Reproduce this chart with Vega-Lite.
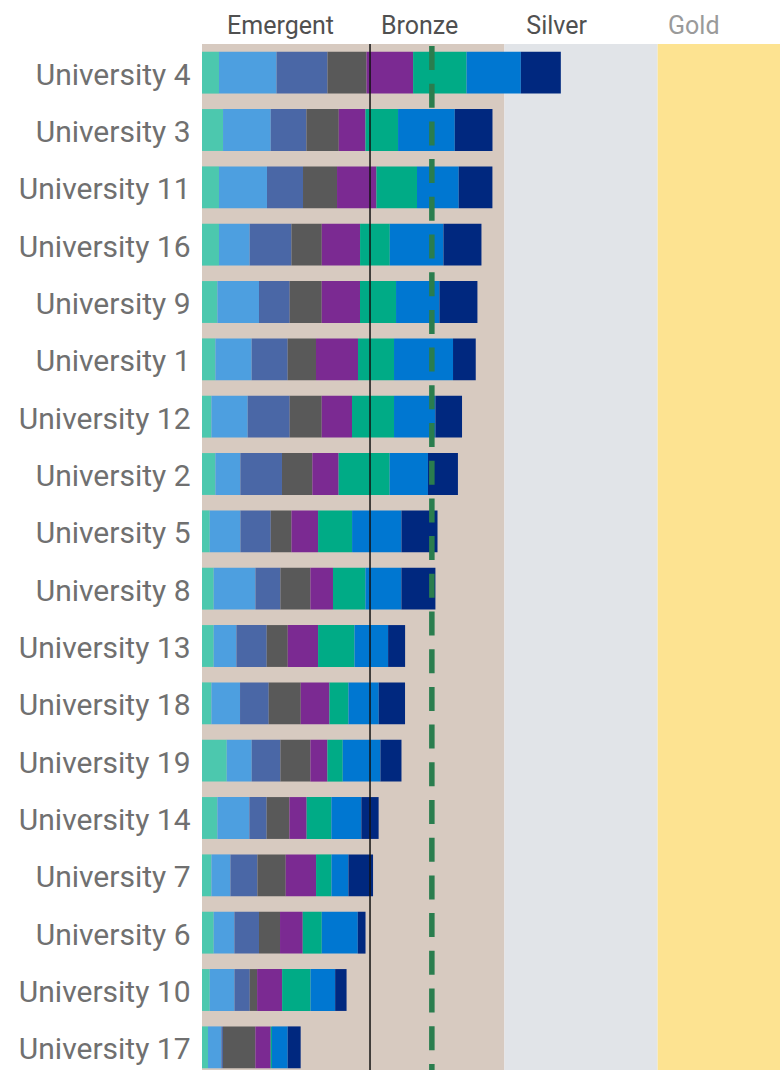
{
  "$schema": "https://vega.github.io/schema/vega-lite/v6.json",
  "autosize": {"type": "none"},
  "padding": {"left": 202, "top": 44, "right": 0, "bottom": 0},
  "width": 578,
  "height": 1032,
  "background": "white",
  "config": {"view": {"stroke": null}, "font": "Roboto"},
  "datasets": {
    "bands": [
      {"band": "Emergent", "start": 0, "end": 25},
      {"band": "Bronze", "start": 25, "end": 45},
      {"band": "Silver", "start": 45, "end": 67.8},
      {"band": "Gold", "start": 67.8, "end": 86}
    ],
    "scores": [
      {"university": "University 4", "category": "C1", "value": 2.53},
      {"university": "University 4", "category": "C2", "value": 8.56},
      {"university": "University 4", "category": "C3", "value": 7.59},
      {"university": "University 4", "category": "C4", "value": 5.80},
      {"university": "University 4", "category": "C5", "value": 6.93},
      {"university": "University 4", "category": "C6", "value": 7.95},
      {"university": "University 4", "category": "C7", "value": 8.08},
      {"university": "University 4", "category": "C8", "value": 5.95},
      {"university": "University 3", "category": "C1", "value": 3.13},
      {"university": "University 3", "category": "C2", "value": 7.10},
      {"university": "University 3", "category": "C3", "value": 5.31},
      {"university": "University 3", "category": "C4", "value": 4.81},
      {"university": "University 3", "category": "C5", "value": 3.97},
      {"university": "University 3", "category": "C6", "value": 4.85},
      {"university": "University 3", "category": "C7", "value": 8.44},
      {"university": "University 3", "category": "C8", "value": 5.61},
      {"university": "University 11", "category": "C1", "value": 2.53},
      {"university": "University 11", "category": "C2", "value": 7.14},
      {"university": "University 11", "category": "C3", "value": 5.36},
      {"university": "University 11", "category": "C4", "value": 5.06},
      {"university": "University 11", "category": "C5", "value": 5.86},
      {"university": "University 11", "category": "C6", "value": 6.04},
      {"university": "University 11", "category": "C7", "value": 6.21},
      {"university": "University 11", "category": "C8", "value": 5.01},
      {"university": "University 16", "category": "C1", "value": 2.53},
      {"university": "University 16", "category": "C2", "value": 4.57},
      {"university": "University 16", "category": "C3", "value": 6.21},
      {"university": "University 16", "category": "C4", "value": 4.51},
      {"university": "University 16", "category": "C5", "value": 5.70},
      {"university": "University 16", "category": "C6", "value": 4.42},
      {"university": "University 16", "category": "C7", "value": 7.99},
      {"university": "University 16", "category": "C8", "value": 5.65},
      {"university": "University 9", "category": "C1", "value": 2.29},
      {"university": "University 9", "category": "C2", "value": 6.19},
      {"university": "University 9", "category": "C3", "value": 4.57},
      {"university": "University 9", "category": "C4", "value": 4.76},
      {"university": "University 9", "category": "C5", "value": 5.70},
      {"university": "University 9", "category": "C6", "value": 5.36},
      {"university": "University 9", "category": "C7", "value": 6.46},
      {"university": "University 9", "category": "C8", "value": 5.65},
      {"university": "University 1", "category": "C1", "value": 1.99},
      {"university": "University 1", "category": "C2", "value": 5.40},
      {"university": "University 1", "category": "C3", "value": 5.36},
      {"university": "University 1", "category": "C4", "value": 4.21},
      {"university": "University 1", "category": "C5", "value": 6.25},
      {"university": "University 1", "category": "C6", "value": 5.36},
      {"university": "University 1", "category": "C7", "value": 8.78},
      {"university": "University 1", "category": "C8", "value": 3.38},
      {"university": "University 12", "category": "C1", "value": 1.40},
      {"university": "University 12", "category": "C2", "value": 5.40},
      {"university": "University 12", "category": "C3", "value": 6.25},
      {"university": "University 12", "category": "C4", "value": 4.76},
      {"university": "University 12", "category": "C5", "value": 4.51},
      {"university": "University 12", "category": "C6", "value": 6.25},
      {"university": "University 12", "category": "C7", "value": 6.16},
      {"university": "University 12", "category": "C8", "value": 3.96},
      {"university": "University 2", "category": "C1", "value": 1.99},
      {"university": "University 2", "category": "C2", "value": 3.72},
      {"university": "University 2", "category": "C3", "value": 6.19},
      {"university": "University 2", "category": "C4", "value": 4.52},
      {"university": "University 2", "category": "C5", "value": 3.91},
      {"university": "University 2", "category": "C6", "value": 7.59},
      {"university": "University 2", "category": "C7", "value": 5.70},
      {"university": "University 2", "category": "C8", "value": 4.46},
      {"university": "University 5", "category": "C1", "value": 1.15},
      {"university": "University 5", "category": "C2", "value": 4.57},
      {"university": "University 5", "category": "C3", "value": 4.51},
      {"university": "University 5", "category": "C4", "value": 3.08},
      {"university": "University 5", "category": "C5", "value": 3.96},
      {"university": "University 5", "category": "C6", "value": 5.06},
      {"university": "University 5", "category": "C7", "value": 7.35},
      {"university": "University 5", "category": "C8", "value": 5.36},
      {"university": "University 8", "category": "C1", "value": 1.74},
      {"university": "University 8", "category": "C2", "value": 6.21},
      {"university": "University 8", "category": "C3", "value": 3.72},
      {"university": "University 8", "category": "C4", "value": 4.46},
      {"university": "University 8", "category": "C5", "value": 3.36},
      {"university": "University 8", "category": "C6", "value": 4.82},
      {"university": "University 8", "category": "C7", "value": 5.36},
      {"university": "University 8", "category": "C8", "value": 5.06},
      {"university": "University 13", "category": "C1", "value": 1.74},
      {"university": "University 13", "category": "C2", "value": 3.38},
      {"university": "University 13", "category": "C3", "value": 4.51},
      {"university": "University 13", "category": "C4", "value": 3.13},
      {"university": "University 13", "category": "C5", "value": 4.51},
      {"university": "University 13", "category": "C6", "value": 5.42},
      {"university": "University 13", "category": "C7", "value": 5.00},
      {"university": "University 13", "category": "C8", "value": 2.53},
      {"university": "University 18", "category": "C1", "value": 1.40},
      {"university": "University 18", "category": "C2", "value": 4.26},
      {"university": "University 18", "category": "C3", "value": 4.27},
      {"university": "University 18", "category": "C4", "value": 4.76},
      {"university": "University 18", "category": "C5", "value": 4.27},
      {"university": "University 18", "category": "C6", "value": 2.83},
      {"university": "University 18", "category": "C7", "value": 4.51},
      {"university": "University 18", "category": "C8", "value": 3.91},
      {"university": "University 19", "category": "C1", "value": 3.68},
      {"university": "University 19", "category": "C2", "value": 3.72},
      {"university": "University 19", "category": "C3", "value": 4.27},
      {"university": "University 19", "category": "C4", "value": 4.46},
      {"university": "University 19", "category": "C5", "value": 2.53},
      {"university": "University 19", "category": "C6", "value": 2.28},
      {"university": "University 19", "category": "C7", "value": 5.61},
      {"university": "University 19", "category": "C8", "value": 3.13},
      {"university": "University 14", "category": "C1", "value": 2.29},
      {"university": "University 14", "category": "C2", "value": 4.76},
      {"university": "University 14", "category": "C3", "value": 2.57},
      {"university": "University 14", "category": "C4", "value": 3.38},
      {"university": "University 14", "category": "C5", "value": 2.57},
      {"university": "University 14", "category": "C6", "value": 3.68},
      {"university": "University 14", "category": "C7", "value": 4.46},
      {"university": "University 14", "category": "C8", "value": 2.57},
      {"university": "University 7", "category": "C1", "value": 1.40},
      {"university": "University 7", "category": "C2", "value": 2.83},
      {"university": "University 7", "category": "C3", "value": 4.02},
      {"university": "University 7", "category": "C4", "value": 4.21},
      {"university": "University 7", "category": "C5", "value": 4.51},
      {"university": "University 7", "category": "C6", "value": 2.29},
      {"university": "University 7", "category": "C7", "value": 2.53},
      {"university": "University 7", "category": "C8", "value": 3.66},
      {"university": "University 6", "category": "C1", "value": 1.74},
      {"university": "University 6", "category": "C2", "value": 3.08},
      {"university": "University 6", "category": "C3", "value": 3.66},
      {"university": "University 6", "category": "C4", "value": 3.13},
      {"university": "University 6", "category": "C5", "value": 3.38},
      {"university": "University 6", "category": "C6", "value": 2.83},
      {"university": "University 6", "category": "C7", "value": 5.36},
      {"university": "University 6", "category": "C8", "value": 1.15},
      {"university": "University 10", "category": "C1", "value": 1.15},
      {"university": "University 10", "category": "C2", "value": 3.68},
      {"university": "University 10", "category": "C3", "value": 2.28},
      {"university": "University 10", "category": "C4", "value": 1.09},
      {"university": "University 10", "category": "C5", "value": 3.72},
      {"university": "University 10", "category": "C6", "value": 4.23},
      {"university": "University 10", "category": "C7", "value": 3.66},
      {"university": "University 10", "category": "C8", "value": 1.70},
      {"university": "University 17", "category": "C1", "value": 0.89},
      {"university": "University 17", "category": "C2", "value": 1.99},
      {"university": "University 17", "category": "C3", "value": 0.24},
      {"university": "University 17", "category": "C4", "value": 4.82},
      {"university": "University 17", "category": "C5", "value": 2.28},
      {"university": "University 17", "category": "C6", "value": 0.19},
      {"university": "University 17", "category": "C7", "value": 2.34},
      {"university": "University 17", "category": "C8", "value": 1.93}
    ],
    "lines": [
      {"kind": "Bronze threshold", "value": 25},
      {"kind": "Target", "value": 34.2}
    ]
  },
  "resolve": {"scale": {"color": "independent"}, "axis": {"x": "independent"}},
  "layer": [
    {
      "data": {"name": "bands"},
      "mark": {"type": "rect"},
      "encoding": {
        "x": {
          "field": "start", "type": "quantitative",
          "scale": {"domain": [0, 86], "nice": false, "zero": true},
          "axis": {
            "orient": "top", "title": null, "domain": false, "ticks": false, "grid": false,
            "values": [11.6, 32.3, 52.7, 73.1],
            "labelExpr": "datum.value < 20 ? 'Emergent' : datum.value < 40 ? 'Bronze' : datum.value < 60 ? 'Silver' : 'Gold'",
            "labelFontSize": 25, "labelPadding": 6, "labelFont": "Roboto",
            "labelColor": {"condition": {"test": "datum.value > 60", "value": "#9a9a9a"}, "value": "#505050"}
          }
        },
        "x2": {"field": "end"},
        "color": {
          "field": "band", "type": "nominal", "legend": null,
          "scale": {"domain": ["Emergent", "Bronze", "Silver", "Gold"], "range": ["#d7cac0", "#d7cac0", "#e1e4e8", "#fde391"]}
        }
      }
    },
    {
      "data": {"name": "scores"},
      "mark": {"type": "bar"},
      "encoding": {
        "y": {
          "field": "university", "type": "nominal",
          "sort": ["University 4", "University 3", "University 11", "University 16", "University 9", "University 1", "University 12", "University 2", "University 5", "University 8", "University 13", "University 18", "University 19", "University 14", "University 7", "University 6", "University 10", "University 17"],
          "scale": {"paddingInner": 0.27, "paddingOuter": 0.135},
          "axis": {"title": null, "domain": false, "ticks": false, "labelFontSize": 30, "labelColor": "#707070", "labelPadding": 12, "labelOffset": 3, "labelFont": "Roboto"}
        },
        "x": {"field": "value", "type": "quantitative", "stack": "zero", "axis": null},
        "color": {
          "field": "category", "type": "nominal", "legend": null,
          "scale": {"domain": ["C1", "C2", "C3", "C4", "C5", "C6", "C7", "C8"], "range": ["#4cc8ae", "#4d9fe0", "#4a67a6", "#595959", "#7b2a92", "#00ab86", "#0077d1", "#00287f"]}
        },
        "order": {"field": "category", "type": "ordinal", "sort": "ascending"}
      }
    },
    {
      "data": {"name": "lines"},
      "transform": [{"filter": "datum.kind === 'Bronze threshold'"}],
      "mark": {"type": "rule", "color": "#111111", "strokeWidth": 1.5},
      "encoding": {"x": {"field": "value", "type": "quantitative", "axis": null}}
    },
    {
      "data": {"name": "lines"},
      "transform": [{"filter": "datum.kind === 'Target'"}],
      "mark": {"type": "rule", "color": "#2a7d4e", "strokeWidth": 5.5, "strokeDash": [24, 13.7], "strokeDashOffset": -2},
      "encoding": {"x": {"field": "value", "type": "quantitative", "axis": null}}
    }
  ]
}
